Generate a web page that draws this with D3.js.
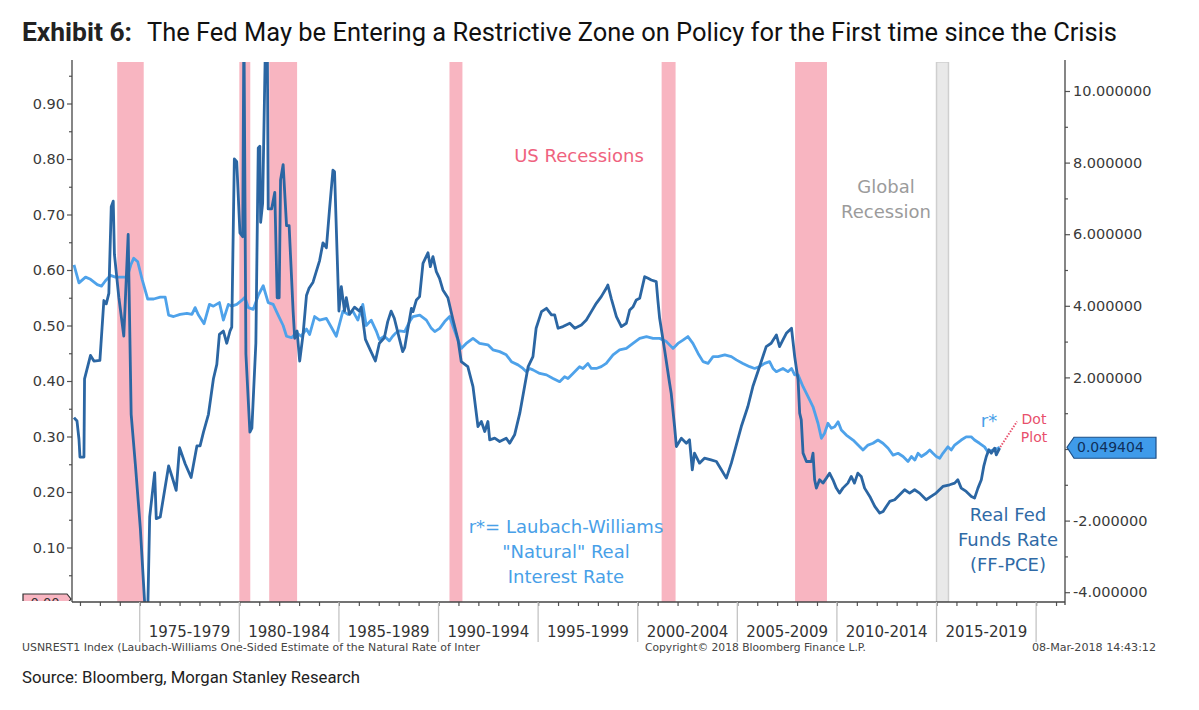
<!DOCTYPE html>
<html><head><meta charset="utf-8">
<script src="https://cdn.jsdelivr.net/npm/d3@7"></script>
<style>body{margin:0;background:#fff}svg{display:block}</style>
</head><body>
<svg id="chart" width="1199" height="710"></svg>
<script>
// ---------------- DATA ----------------
// Real Fed Funds Rate (FF-PCE), plotted on the left axis units: [year, value]
const realFedFunds = [
[1971.70,0.334],[1971.85,0.328],[1971.95,0.295],[1972.00,0.263],[1972.20,0.263],[1972.23,0.404],
[1972.53,0.446],[1972.70,0.436],[1973.00,0.437],[1973.20,0.545],[1973.32,0.539],[1973.45,0.558],
[1973.57,0.714],[1973.67,0.724],[1973.73,0.628],[1973.95,0.551],[1974.20,0.481],[1974.42,0.664],
[1974.57,0.340],[1974.78,0.250],[1975.03,0.135],[1975.28,-0.02],[1975.40,-0.02],[1975.50,0.155],
[1975.75,0.235],[1975.83,0.152],[1976.03,0.155],[1976.45,0.247],[1976.62,0.228],[1976.83,0.203],
[1977.00,0.280],[1977.28,0.251],[1977.58,0.226],[1977.87,0.283],[1978.03,0.283],[1978.20,0.308],
[1978.45,0.340],[1978.70,0.404],[1978.87,0.430],[1979.00,0.484],[1979.20,0.490],[1979.37,0.468],
[1979.53,0.490],[1979.62,0.497],[1979.75,0.800],[1979.87,0.795],[1980.03,0.667],[1980.17,0.660],
[1980.23,1.050],[1980.33,0.449],[1980.53,0.308],[1980.63,0.315],[1980.83,0.468],[1980.95,0.820],
[1981.03,0.823],[1981.07,0.686],[1981.17,0.720],[1981.33,1.050],[1981.40,1.050],[1981.45,0.710],
[1981.62,0.710],[1981.78,0.740],[1981.90,0.550],[1982.00,0.550],[1982.07,0.762],[1982.20,0.790],
[1982.37,0.680],[1982.50,0.680],[1982.70,0.526],[1982.78,0.477],[1982.90,0.490],[1983.03,0.436],
[1983.20,0.484],[1983.37,0.554],[1983.50,0.567],[1983.70,0.578],[1984.03,0.617],[1984.20,0.649],
[1984.37,0.640],[1984.53,0.710],[1984.70,0.780],[1984.78,0.777],[1985.00,0.526],[1985.12,0.570],
[1985.28,0.526],[1985.37,0.550],[1985.53,0.520],[1985.78,0.533],[1986.03,0.526],[1986.12,0.533],
[1986.33,0.475],[1986.57,0.456],[1986.83,0.436],[1987.03,0.468],[1987.28,0.478],[1987.45,0.507],
[1987.62,0.526],[1987.78,0.513],[1988.05,0.474],[1988.20,0.453],[1988.30,0.460],[1988.38,0.477],
[1988.64,0.531],[1988.72,0.525],[1988.89,0.546],[1989.05,0.552],[1989.22,0.612],[1989.47,0.631],
[1989.59,0.606],[1989.72,0.624],[1989.89,0.597],[1990.05,0.585],[1990.22,0.564],[1990.47,0.550],
[1990.73,0.510],[1990.98,0.474],[1991.14,0.435],[1991.47,0.426],[1991.73,0.390],[1991.98,0.318],
[1992.15,0.327],[1992.32,0.309],[1992.48,0.327],[1992.57,0.294],[1992.82,0.297],[1993.07,0.291],
[1993.40,0.297],[1993.57,0.288],[1993.82,0.303],[1994.08,0.342],[1994.32,0.390],[1994.50,0.426],
[1994.74,0.444],[1994.90,0.495],[1995.17,0.525],[1995.42,0.531],[1995.67,0.519],[1995.83,0.519],
[1996.00,0.495],[1996.25,0.498],[1996.59,0.504],[1996.84,0.495],[1997.17,0.501],[1997.42,0.510],
[1997.67,0.525],[1997.92,0.540],[1998.17,0.552],[1998.42,0.567],[1998.50,0.573],[1998.67,0.549],
[1998.93,0.516],[1999.18,0.498],[1999.43,0.504],[1999.60,0.528],[1999.77,0.534],[1999.93,0.546],
[2000.10,0.549],[2000.35,0.588],[2000.52,0.585],[2000.68,0.582],[2000.93,0.579],[2001.01,0.546],
[2001.10,0.513],[2001.35,0.456],[2001.60,0.396],[2001.68,0.378],[2001.85,0.318],[2001.94,0.282],
[2002.19,0.297],[2002.44,0.288],[2002.60,0.294],[2002.74,0.240],[2002.85,0.270],[2003.10,0.252],
[2003.35,0.261],[2003.68,0.258],[2003.95,0.255],[2004.20,0.240],[2004.45,0.225],[2004.70,0.252],
[2004.95,0.285],[2005.20,0.318],[2005.53,0.354],[2005.78,0.390],[2006.12,0.426],[2006.45,0.462],
[2006.70,0.468],[2006.96,0.483],[2007.12,0.462],[2007.29,0.474],[2007.46,0.486],[2007.63,0.492],
[2007.72,0.495],[2007.88,0.444],[2008.05,0.402],[2008.13,0.342],[2008.21,0.330],[2008.30,0.270],
[2008.47,0.255],[2008.72,0.255],[2008.80,0.270],[2008.88,0.222],[2008.97,0.207],[2009.13,0.222],
[2009.30,0.216],[2009.47,0.225],[2009.63,0.234],[2009.80,0.222],[2009.97,0.207],[2010.13,0.198],
[2010.30,0.207],[2010.55,0.216],[2010.72,0.228],[2010.88,0.216],[2011.05,0.234],[2011.22,0.228],
[2011.39,0.207],[2011.65,0.192],[2011.90,0.174],[2012.15,0.162],[2012.32,0.165],[2012.48,0.174],
[2012.65,0.183],[2012.90,0.186],[2013.15,0.195],[2013.40,0.204],[2013.65,0.198],[2013.90,0.204],
[2014.15,0.198],[2014.48,0.186],[2014.73,0.192],[2014.98,0.198],[2015.32,0.210],[2015.66,0.213],
[2015.91,0.216],[2016.07,0.222],[2016.24,0.207],[2016.49,0.201],[2016.75,0.192],[2016.91,0.189],
[2017.08,0.207],[2017.25,0.222],[2017.37,0.246],[2017.50,0.264],[2017.63,0.276],[2017.75,0.270],
[2017.92,0.279],[2018.00,0.267],[2018.17,0.279]
];

// r* Laubach-Williams natural rate, plotted on the right axis units: [year, value]
const rStar = [
[1971.70,5.14],[1971.95,4.64],[1972.28,4.80],[1972.53,4.74],[1972.87,4.59],[1973.08,4.55],
[1973.28,4.70],[1973.53,4.85],[1973.78,4.80],[1974.03,4.80],[1974.37,4.80],[1974.55,5.14],
[1974.70,5.33],[1974.90,5.23],[1975.12,4.74],[1975.40,4.19],[1975.70,4.19],[1976.03,4.24],
[1976.28,4.24],[1976.45,3.74],[1976.70,3.70],[1977.03,3.76],[1977.37,3.79],[1977.62,3.76],
[1977.78,3.95],[1977.95,3.74],[1978.23,3.50],[1978.50,4.04],[1978.70,3.99],[1979.00,4.09],
[1979.20,3.60],[1979.45,4.04],[1979.62,3.99],[1979.87,4.04],[1980.12,4.15],[1980.28,4.24],
[1980.45,3.95],[1980.70,3.90],[1980.95,4.29],[1981.20,4.56],[1981.45,4.09],[1981.70,4.04],
[1981.95,3.74],[1982.20,3.45],[1982.37,3.15],[1982.62,3.11],[1982.87,3.25],[1983.10,3.15],
[1983.37,3.35],[1983.53,3.20],[1983.78,3.70],[1984.03,3.60],[1984.37,3.65],[1984.62,3.40],
[1984.87,3.15],[1985.20,3.85],[1985.45,3.76],[1985.70,3.85],[1985.95,3.60],[1986.20,4.04],
[1986.37,3.45],[1986.62,3.60],[1986.87,3.30],[1987.03,3.06],[1987.28,3.15],[1987.53,3.02],
[1987.70,3.15],[1987.87,3.25],[1988.05,3.30],[1988.30,3.28],[1988.55,3.56],[1988.72,3.70],
[1989.06,3.74],[1989.39,3.60],[1989.64,3.37],[1989.81,3.28],[1990.06,3.37],[1990.31,3.56],
[1990.56,3.70],[1990.73,3.42],[1990.98,3.04],[1991.14,2.81],[1991.39,2.95],[1991.73,3.09],
[1992.06,2.95],[1992.48,2.91],[1992.73,2.77],[1993.07,2.72],[1993.40,2.63],[1993.66,2.44],
[1993.99,2.35],[1994.24,2.25],[1994.41,2.16],[1994.58,2.25],[1994.74,2.21],[1995.08,2.11],
[1995.42,2.07],[1995.75,1.97],[1996.08,1.88],[1996.33,2.02],[1996.50,1.97],[1996.75,2.11],
[1997.08,2.30],[1997.25,2.25],[1997.50,2.39],[1997.67,2.25],[1997.92,2.25],[1998.17,2.30],
[1998.42,2.39],[1998.76,2.63],[1999.09,2.77],[1999.43,2.81],[1999.76,2.95],[2000.10,3.09],
[2000.44,3.14],[2000.77,3.09],[2001.10,3.09],[2001.44,3.00],[2001.77,2.81],[2002.02,2.95],
[2002.27,3.04],[2002.52,3.14],[2002.77,2.95],[2003.03,2.67],[2003.28,2.44],[2003.53,2.39],
[2003.78,2.58],[2004.03,2.58],[2004.37,2.63],[2004.70,2.58],[2004.95,2.49],[2005.28,2.39],
[2005.62,2.30],[2005.87,2.25],[2006.12,2.30],[2006.37,2.39],[2006.62,2.44],[2006.79,2.25],
[2006.96,2.16],[2007.29,2.25],[2007.54,2.16],[2007.72,2.25],[2007.88,2.07],[2008.05,2.07],
[2008.30,1.74],[2008.55,1.46],[2008.80,1.18],[2009.05,0.72],[2009.22,0.30],[2009.38,0.44],
[2009.55,0.72],[2009.72,0.58],[2009.89,0.62],[2010.06,0.76],[2010.22,0.53],[2010.47,0.39],
[2010.81,0.25],[2011.06,0.11],[2011.31,-0.03],[2011.56,0.11],[2011.81,0.16],[2012.06,0.25],
[2012.31,0.16],[2012.57,0.02],[2012.82,-0.17],[2013.07,-0.12],[2013.32,-0.21],[2013.57,-0.35],
[2013.74,-0.21],[2013.91,-0.31],[2014.07,-0.12],[2014.24,-0.21],[2014.49,-0.12],[2014.66,-0.03],
[2014.82,-0.12],[2014.99,-0.21],[2015.16,-0.26],[2015.32,-0.12],[2015.57,0.06],[2015.74,-0.03],
[2015.91,0.11],[2016.24,0.25],[2016.49,0.34],[2016.74,0.34],[2016.91,0.25],[2017.16,0.16],
[2017.41,0.06],[2017.58,-0.08],[2017.83,-0.03],[2018.08,0.02],[2018.17,0.049]
];

// Fed dot plot projection (left axis units)
const dotPlot = [[2018.20,0.281],[2019.04,0.327]];

// Recession periods [start, end]
const usRecessions = [[1973.87,1975.20],[1980.00,1980.55],[1981.50,1982.90],[1990.55,1991.20],[2001.20,2001.90],[2007.90,2009.50]];
const globalRecession = [[2015.00,2015.60]];

// Axis ticks / labels
const leftTicks = [0.1,0.2,0.3,0.4,0.5,0.6,0.7,0.8,0.9];
const rightTicks = [-4,-2,0,2,4,6,8,10];
const periodStarts = [1975,1980,1985,1990,1995,2000,2005,2010,2015];
const lastValue = 0.049404;

// ---------------- CHART ----------------
const svg = d3.select("#chart");
const L = 72, R = 1065, T = 62, B = 602;
const x = d3.scaleLinear().domain([1971.6, 2021.45]).range([L, R]);
const yL = d3.scaleLinear().domain([0, 0.9]).range([603, 103.5]);
const yR = d3.scaleLinear().domain([-4, 10]).range([592.2, 91]);

svg.append("rect").attr("width",1199).attr("height",710).attr("fill","#fff");

// Title
svg.append("text").attr("x",22).attr("y",41).attr("font-family","Roboto").attr("font-weight","bold")
  .attr("font-size",25).attr("fill","#222").attr("textLength",110).attr("lengthAdjust","spacingAndGlyphs").text("Exhibit 6:");
svg.append("text").attr("x",147).attr("y",41).attr("font-family","Roboto")
  .attr("font-size",25).attr("fill","#111").attr("textLength",970).attr("lengthAdjust","spacingAndGlyphs")
  .text("The Fed May be Entering a Restrictive Zone on Policy for the First time since the Crisis");

const defs = svg.append("defs");
defs.append("clipPath").attr("id","plotclip").append("rect").attr("x",L).attr("y",T).attr("width",R-L).attr("height",B-T);
defs.append("clipPath").attr("id","boxclip").append("rect").attr("x",0).attr("y",0).attr("width",80).attr("height",B-1);

const plot = svg.append("g").attr("clip-path","url(#plotclip)");

// Recession bands
plot.selectAll("rect.rec").data(usRecessions).join("rect").attr("class","rec")
  .attr("x",d=>x(d[0])).attr("width",d=>x(d[1])-x(d[0])).attr("y",T).attr("height",B-T).attr("fill","#f8b5c1");
plot.selectAll("rect.glob").data(globalRecession).join("rect").attr("class","glob")
  .attr("x",d=>x(d[0])).attr("width",d=>x(d[1])-x(d[0])).attr("y",T).attr("height",B-T)
  .attr("fill","#e9e9e9").attr("stroke","#cfcfcf").attr("stroke-width",1.5);

// Lines
const lineL = d3.line().x(d=>x(d[0])).y(d=>yL(d[1]));
const lineR = d3.line().x(d=>x(d[0])).y(d=>yR(d[1]));
plot.append("path").datum(rStar).attr("d",lineR).attr("fill","none").attr("stroke","#4ea2ea").attr("stroke-width",2.8).attr("stroke-linejoin","round");
plot.append("path").datum(realFedFunds).attr("d",lineL).attr("fill","none").attr("stroke","#2b66a3").attr("stroke-width",2.8).attr("stroke-linejoin","round");
plot.append("path").datum(dotPlot).attr("d",lineL).attr("fill","none").attr("stroke","#e8506c").attr("stroke-width",2).attr("stroke-dasharray","1.5,1.5");

// Axes
const axisCol = "#555";
const gl = svg.append("g").attr("transform",`translate(${L},0)`)
  .call(d3.axisLeft(yL).tickValues(leftTicks).tickFormat(d3.format(".2f")).tickSize(5).tickPadding(2));
const glm = svg.append("g").attr("transform",`translate(${L},0)`)
  .call(d3.axisLeft(yL).tickValues(leftTicks.map(v=>v-0.05).concat([0.95])).tickFormat("").tickSize(3));
const gr = svg.append("g").attr("transform",`translate(${R},0)`)
  .call(d3.axisRight(yR).tickValues(rightTicks.filter(v=>v!==0)).tickFormat(d=>d.toFixed(6)).tickSize(5).tickPadding(3));
const grm = svg.append("g").attr("transform",`translate(${R},0)`)
  .call(d3.axisRight(yR).tickValues([-3,-1,0,1,3,5,7,9]).tickFormat("").tickSize(3));
const years = d3.range(1972, 2022);
const gb = svg.append("g").attr("transform",`translate(0,${B})`)
  .call(d3.axisBottom(x).tickValues(years).tickFormat("").tickSize(4));
[gl,glm,gr,grm,gb].forEach(g=>{
  g.select(".domain").remove();
  g.selectAll("line").attr("stroke",axisCol).attr("stroke-width",1.2);
  g.selectAll("text").attr("font-family","DejaVu Sans").attr("font-size",14.5).attr("fill","#3a3a3a");
});
svg.append("line").attr("x1",L).attr("x2",L).attr("y1",T-2).attr("y2",B).attr("stroke","#444").attr("stroke-width",1.3);
svg.append("line").attr("x1",R).attr("x2",R).attr("y1",T-2).attr("y2",B+3).attr("stroke","#444").attr("stroke-width",1.3);
svg.append("line").attr("x1",L).attr("x2",R).attr("y1",B).attr("y2",B).attr("stroke","#444").attr("stroke-width",1.3);

// period dividers and labels
svg.selectAll("line.div").data(periodStarts.concat([2020])).join("line").attr("class","div")
  .attr("x1",d=>x(d)).attr("x2",d=>x(d)).attr("y1",B).attr("y2",642).attr("stroke","#c4c4c4").attr("stroke-width",1.3);
svg.selectAll("text.per").data(periodStarts).join("text").attr("class","per")
  .attr("x",d=>x(d+2.5)).attr("y",637).attr("text-anchor","middle")
  .attr("font-family","DejaVu Sans").attr("font-size",15).attr("fill","#333")
  .text(d=>`${d}-${d+4}`);

// left "0.00" last-value box (clipped)
const lb = svg.append("g").attr("clip-path","url(#boxclip)");
const y0 = yL(0);
lb.append("path").attr("d",`M23,${y0-9}H67L71,${y0-4}L67,${y0+1}V${y0+12}H23Z`)
  .attr("fill","#f8b5c1").attr("stroke","#333").attr("stroke-width",1.2);
lb.append("text").attr("x",45).attr("y",y0+4).attr("text-anchor","middle").attr("font-family","DejaVu Sans")
  .attr("font-size",13).attr("fill","#333").text(d3.format(".2f")(0));

// right last-value box
const yv = yR(lastValue);
svg.append("path").attr("d",`M1067,${yv}L1074,${yv-10}H1156V${yv+11}H1074Z`)
  .attr("fill","#3f9bea").attr("stroke","#1d4f86").attr("stroke-width",1.2);
svg.append("text").attr("x",1077).attr("y",yv+5).attr("font-family","DejaVu Sans").attr("font-size",14)
  .attr("fill","#0f2f5a").text(lastValue.toFixed(6));

// annotations
function ann(lines, cx, y0, dy, color, size){
  const t = svg.append("text").attr("font-family","DejaVu Sans").attr("font-size",size).attr("fill",color).attr("text-anchor","middle");
  lines.forEach((s,i)=>t.append("tspan").attr("x",cx).attr("y",y0+i*dy).text(s));
}
ann(["US Recessions"], 579, 162, 0, "#ef627e", 18);
ann(["Global","Recession"], 886, 193, 25, "#9b9b9b", 18);
ann(["r*= Laubach-Williams","\"Natural\" Real","Interest Rate"], 566, 533, 25, "#48a0e8", 18);
ann(["Real Fed","Funds Rate","(FF-PCE)"], 1008, 521, 25, "#2f6aa6", 18);
ann(["r*"], 989, 427, 0, "#48a0e8", 18);
ann(["Dot","Plot"], 1034, 424, 18, "#e8506c", 14);

// footer
svg.append("text").attr("x",22).attr("y",651).attr("font-family","DejaVu Sans").attr("font-size",10).attr("fill","#444")
  .attr("textLength",458).attr("lengthAdjust","spacingAndGlyphs")
  .text("USNREST1 Index (Laubach-Williams One-Sided Estimate of the Natural Rate of Inter");
svg.append("text").attr("x",645).attr("y",651).attr("font-family","DejaVu Sans").attr("font-size",10).attr("fill","#444")
  .attr("textLength",221).attr("lengthAdjust","spacingAndGlyphs").text("Copyright\u00a9 2018 Bloomberg Finance L.P.");
svg.append("text").attr("x",1156).attr("y",651).attr("text-anchor","end").attr("font-family","DejaVu Sans").attr("font-size",10).attr("fill","#444")
  .attr("textLength",124).attr("lengthAdjust","spacingAndGlyphs").text("08-Mar-2018 14:43:12");
svg.append("text").attr("x",22).attr("y",683).attr("font-family","Roboto").attr("font-size",16).attr("fill","#222")
  .attr("textLength",338).attr("lengthAdjust","spacingAndGlyphs").text("Source: Bloomberg, Morgan Stanley Research");
</script>
</body></html>
